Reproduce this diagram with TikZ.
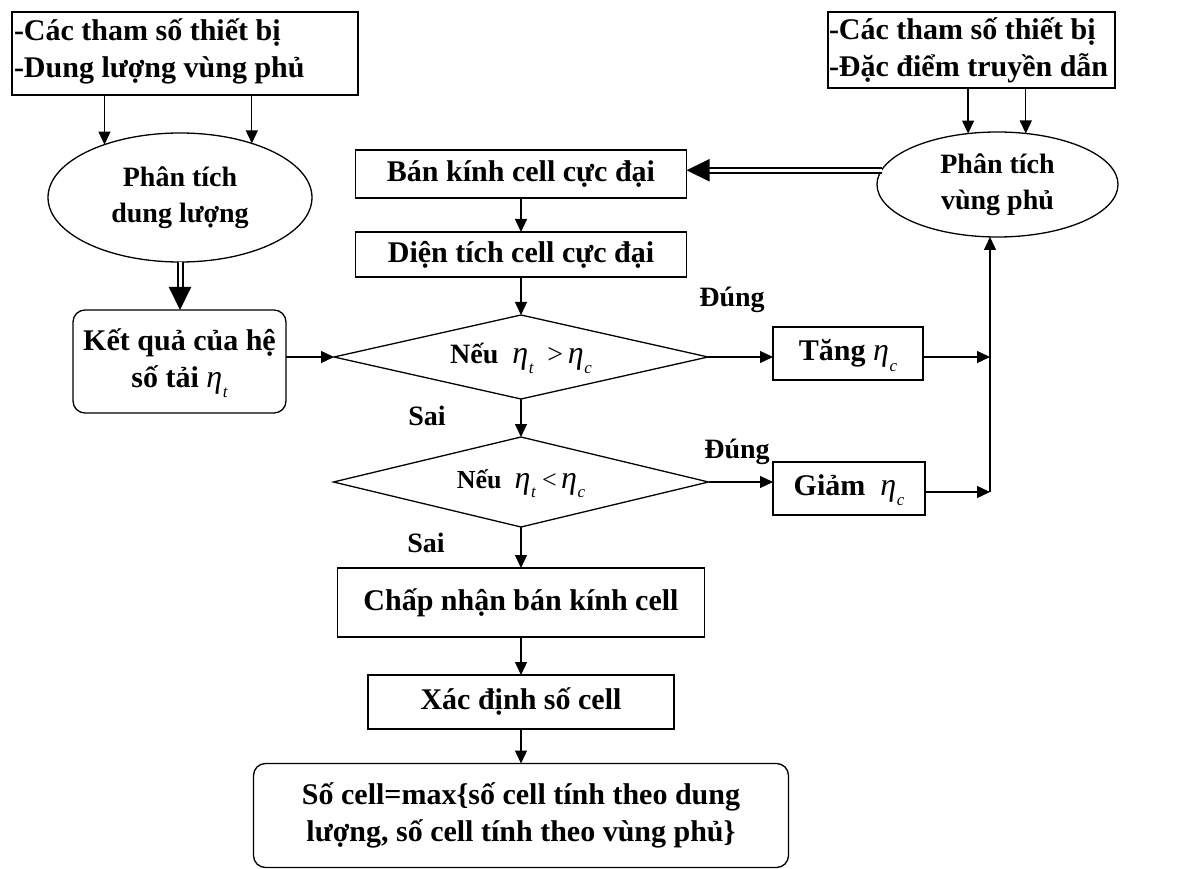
\documentclass[tikz,border=0pt]{standalone}
\usepackage{fontspec}
\setmainfont{Liberation Serif}
\usetikzlibrary{arrows.meta,shapes.geometric,calc}
\newcommand\etx[1]{{\normalfont\itshape\fontsize{32}{32}\selectfont η}\kern0.5pt\smash{\raisebox{-0.35em}{\normalfont\itshape\fontsize{17}{17}\selectfont #1}}}
\begin{document}
\begin{tikzpicture}[x=1pt,y=-1pt,
  every node/.style={font=\fontsize{30}{37}\selectfont\bfseries, outer sep=0pt, inner sep=0pt},
  box/.style={draw, line width=1.3pt, rectangle, align=center},
  rbox/.style={box, rounded corners=12pt},
  ell/.style={draw, line width=1.3pt, ellipse, align=center, font=\fontsize{28}{36}\selectfont\bfseries},
  dia/.style={draw, line width=1.3pt, diamond, shape aspect=4.4, align=center, font=\fontsize{28}{34}\selectfont\bfseries},
  lbl/.style={font=\fontsize{28}{34}\selectfont\bfseries},
  txt/.style={anchor=west, align=left},
  arr/.style={line width=1.3pt, -{Triangle[length=13pt,width=12pt]}},
  dbl/.style={line width=2pt, double, double distance=3pt, -{Triangle[length=23pt,width=22pt]}},
  ln/.style={line width=1.3pt}]
\useasboundingbox (0,0) rectangle (1179,869);
\fill[white] (0,0) rectangle (1179,869);

\node[box, minimum width=346, minimum height=83] (tl) at (185,53.5) {};
\node[txt] (tlt) at ([xshift=2pt,yshift=2pt]tl.west) {-Các tham số thiết bị\\-Dung lượng vùng phủ};
\node[box, minimum width=287, minimum height=76] (tr) at (971.5,50) {};
\node[txt] (trt) at ([xshift=1pt]tr.west) {-Các tham số thiết bị\\-Đặc điểm truyền dẫn};
\node[ell, minimum width=264, minimum height=129] (e1) at (180,197.5) {Phân tích\\dung lượng};
\node[ell, minimum width=241, minimum height=105] (e2) at (997.5,184.5) {Phân tích\\vùng phủ};
\node[box, minimum width=331, minimum height=48] (bk) at (521,174) {Bán kính cell cực đại};
\node[box, minimum width=331, minimum height=45] (dt) at (521,254.5) {Diện tích cell cực đại};
\node[rbox, minimum width=213, minimum height=103] (kq) at (179.5,361.5) {Kết quả của hệ\\số tải \etx{t}};
\node[dia, minimum width=374, minimum height=84] (d1) at (521,357) {Nếu \ \etx{t} \ {\normalfont >}\,\etx{c}};
\node[dia, minimum width=375, minimum height=90, font=\fontsize{26}{30}\selectfont\bfseries] (d2) at (521,482) {Nếu \ \etx{t} {\normalfont <}\,\etx{c}};
\node[box, minimum width=150, minimum height=53] (tang) at (848,353.5) {Tăng \etx{c}};
\node[box, minimum width=152, minimum height=53] (giam) at (849,488.5) {Giảm \ \etx{c}};
\node[box, minimum width=367, minimum height=69] (cn) at (521,602.5) {Chấp nhận bán kính cell};
\node[box, minimum width=306, minimum height=54] (xd) at (521,702) {Xác định số cell};
\node[rbox, minimum width=535, minimum height=104] (fin) at (521,815.5) {Số cell=max\{số cell tính theo dung\\lượng, số cell tính theo vùng phủ\}};

\node[lbl] (dung1) at (732,300) {Đúng};
\node[lbl] (dung2) at (737,452) {Đúng};
\node[lbl] (sai1) at (427,416) {Sai};
\node[lbl] (sai2) at (426,543) {Sai};

\coordinate (j1) at (990,357);
\coordinate (j2) at (990,492);

\draw[arr] (e1.145 |- tl.south) -- (e1.145);
\draw[arr] (e1.37 |- tl.south) -- (e1.37);
\draw[arr] (e2.120 |- tr.south) -- (e2.120);
\draw[arr] (e2.61 |- tr.south) -- (e2.61);
\draw[dbl] (e1.south) -- (e1.south |- kq.north);
\draw[dbl] (e2.173) -- (e2.173 -| bk.east);
\draw[arr] (bk.south) -- (dt.north);
\draw[arr] (dt.south) -- (d1.north);
\draw[arr] (kq.east |- d1.west) -- (d1.west);
\draw[arr] (d1.south) -- (d2.north);
\draw[arr] (d1.east) -- (d1.east -| tang.west);
\draw[arr] (d2.east) -- (d2.east -| giam.west);
\draw[arr] (tang.east |- j1) -- (j1);
\draw[arr] (giam.east |- j2) -- (j2);
\draw[arr] (j2) -- (j2 |- e2.south);
\draw[arr] (d2.south) -- (cn.north);
\draw[arr] (cn.south) -- (xd.north);
\draw[arr] (xd.south) -- (fin.north);
\end{tikzpicture}
\end{document}
